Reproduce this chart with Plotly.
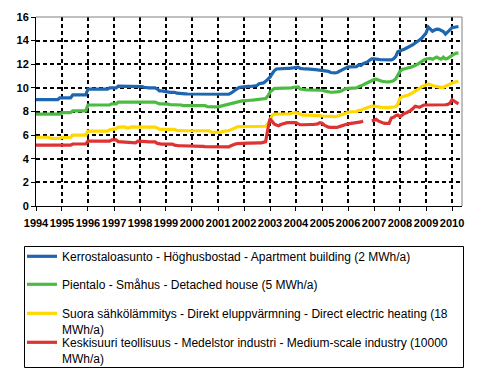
import pandas as pd
import plotly.graph_objects as go

# Monthly data, Jan 1994 - Apr 2010 (c/kWh)
months = pd.date_range("1994-01-01", periods=196, freq="MS")

apartment = (
    [9.0]*11 + [9.15]
    + [9.15, 9.15, 9.15, 9.15, 9.15, 9.4, 9.4, 9.4, 9.4, 9.4, 9.4, 9.4]
    + [9.9]*10 + [10.0, 10.0]
    + [10.0, 10.0, 10.15, 10.15, 10.15, 10.15, 10.15, 10.1, 10.1, 10.1, 10.1, 10.1]
    + [10.1, 10.1, 10.05, 10.0, 10.0, 10.0, 10.0, 10.0, 9.9, 9.75, 9.75, 9.7]
    + [9.65, 9.65, 9.62, 9.62, 9.62, 9.55, 9.55, 9.55, 9.5, 9.5, 9.48, 9.48]
    + [9.46, 9.46, 9.46, 9.46, 9.46, 9.46, 9.46, 9.42, 9.46, 9.46, 9.46, 9.46]
    + [9.46, 9.46, 9.46, 9.46, 9.46, 9.46, 9.55, 9.7, 9.85, 9.95, 10.05, 10.08]
    + [10.12, 10.12, 10.12, 10.12, 10.15, 10.15, 10.2, 10.35, 10.4, 10.42, 10.55, 10.7]
    + [10.9, 11.2, 11.45, 11.6, 11.62, 11.65, 11.65, 11.65, 11.65, 11.65, 11.68, 11.75]
    + [11.78, 11.76, 11.65, 11.6, 11.6, 11.6, 11.6, 11.6, 11.58, 11.55, 11.52, 11.5]
    + [11.5, 11.48, 11.45, 11.4, 11.3, 11.27, 11.27, 11.3, 11.4, 11.5, 11.6, 11.72]
    + [11.78, 11.78, 11.78, 11.78, 11.8, 11.95, 11.9, 12.05, 12.1, 12.2, 12.35, 12.45]
    + [12.45, 12.45, 12.42, 12.38, 12.37, 12.37, 12.37, 12.37, 12.37, 12.45, 12.65, 13.05]
    + [13.1, 13.2, 13.27, 13.35, 13.45, 13.55, 13.65, 13.8, 13.9, 14.05, 14.2, 14.4]
    + [14.65, 15.15, 15.0, 14.8, 14.9, 14.97, 14.95, 14.85, 14.77, 14.55, 14.7, 14.9]
    + [15.1, 15.14, 15.14, 15.2]
)

detached = (
    [7.78]*12
    + [7.9, 7.9, 7.9, 7.9, 7.9, 8.05, 8.05, 8.05, 8.05, 8.05, 8.05, 8.05]
    + [8.55]*11 + [8.65]
    + [8.65, 8.65] + [8.8]*10
    + [8.8]*8 + [8.72, 8.65, 8.65, 8.65]
    + [8.65, 8.62, 8.58, 8.58, 8.58, 8.58, 8.58, 8.55, 8.5, 8.5, 8.5, 8.5]
    + [8.5]*7 + [8.42, 8.4, 8.4, 8.4, 8.4]
    + [8.4, 8.45, 8.48, 8.5, 8.55, 8.62, 8.68, 8.75, 8.8, 8.85, 8.88, 8.9]
    + [8.9, 8.9, 8.92, 8.95, 8.97, 9.0, 9.03, 9.03, 9.05, 9.05, 9.1, 9.3]
    + [9.65, 9.8, 9.95, 9.96, 9.96, 9.96, 9.96, 9.96, 9.96, 9.98, 10.0, 10.05]
    + [10.1, 10.08, 9.9, 9.85, 9.82, 9.82, 9.82, 9.82, 9.82, 9.82, 9.8, 9.8]
    + [9.8, 9.75, 9.7, 9.65, 9.63, 9.63, 9.63, 9.63, 9.68, 9.75, 9.85, 9.95]
    + [9.96, 9.96, 9.96, 9.96, 10.0, 10.1, 10.15, 10.25, 10.35, 10.45, 10.55, 10.65]
    + [10.7, 10.73, 10.7, 10.6, 10.55, 10.5, 10.5, 10.5, 10.52, 10.6, 10.75, 11.05]
    + [11.4, 11.55, 11.62, 11.66, 11.7, 11.75, 11.8, 11.9, 12.0, 12.14, 12.25, 12.35]
    + [12.45, 12.5, 12.5, 12.43, 12.5, 12.6, 12.5, 12.43, 12.6, 12.45, 12.5, 12.65]
    + [12.75, 12.85, 12.94, 12.94]
)

electric = (
    [5.82]*7 + [5.72]*5
    + [5.8]*5 + [6.0]*7
    + [6.34]*10 + [6.45, 6.5]
    + [6.5, 6.55, 6.68, 6.7, 6.7, 6.7, 6.62, 6.62, 6.7, 6.7, 6.7, 6.7]
    + [6.68]*8 + [6.6, 6.5, 6.48, 6.48]
    + [6.48]*5 + [6.4, 6.37, 6.37, 6.37, 6.37, 6.37, 6.37]
    + [6.37]*9 + [6.25, 6.23, 6.23]
    + [6.23, 6.23, 6.3, 6.37, 6.37, 6.37, 6.45, 6.57, 6.65, 6.7, 6.72, 6.72]
    + [6.75]*11 + [6.95]
    + [7.3, 7.65, 7.78, 7.78, 7.78, 7.78, 7.78, 7.78, 7.78, 7.8, 7.85, 7.9]
    + [7.9, 7.85, 7.75, 7.7, 7.7, 7.7, 7.7, 7.7, 7.7, 7.68, 7.65, 7.65]
    + [7.62, 7.6, 7.58, 7.56, 7.56, 7.56, 7.56, 7.6, 7.65, 7.7, 7.78, 7.84]
    + [7.95, 7.98, 7.98, 7.98, 8.0, 8.1, 8.1, 8.2, 8.28, 8.35, 8.42, 8.46]
    + [8.46, 8.46, 8.4, 8.35, 8.33, 8.33, 8.33, 8.35, 8.35, 8.35, 8.4, 8.6]
    + [9.14, 9.25, 9.28, 9.33, 9.4, 9.5, 9.6, 9.7, 9.85, 9.95, 10.1, 10.2]
    + [10.25, 10.33, 10.3, 10.2, 10.15, 10.1, 10.05, 10.05, 10.05, 10.15, 10.27, 10.3]
    + [10.4, 10.47, 10.52, 10.56]
)

industry = (
    [5.15]*12
    + [5.15]*5 + [5.25]*7
    + [5.5]*11 + [5.6]
    + [5.62, 5.6, 5.45, 5.43, 5.43, 5.43, 5.43, 5.35, 5.35, 5.35, 5.35, 5.5]
    + [5.5, 5.5, 5.5, 5.45, 5.43, 5.43, 5.43, 5.43, 5.3, 5.24, 5.24, 5.24]
    + [5.24]*4 + [5.15, 5.1, 5.1, 5.1, 5.1, 5.1, 5.1, 5.08]
    + [5.05]*6 + [5.02]*6
    + [4.98, 4.96, 4.96, 4.96, 4.96, 5.0, 5.1, 5.2, 5.25, 5.28, 5.3, 5.3]
    + [5.33, 5.33, 5.33, 5.33, 5.35, 5.35, 5.35, 5.35, 5.35, 5.38, 5.45, 6.5]
    + [7.38, 7.15, 6.95, 6.85, 6.8, 6.9, 6.95, 7.05, 7.05, 7.05, 7.05, 7.05]
    + [7.05, 6.95, 6.88, 6.88, 6.9, 6.9, 6.88, 6.9, 6.9, 6.92, 6.95, 7.05]
    + [7.0, 6.85, 6.75, 6.68, 6.65, 6.65, 6.65, 6.65, 6.72, 6.8, 6.85, 6.9]
    + [6.95, 6.98, 6.99, 6.99, 7.0, 7.07, 7.12, 7.19, None, None, None, 7.2]
    + [7.25, 7.33, 7.2, 7.1, 7.05, 7.0, 7.0, 7.0, 7.45, 7.5, 7.65, 7.7]
    + [7.55, 7.7, 7.84, 7.9, 7.98, 8.1, 8.25, 8.45, 8.4, 8.35, 8.45, 8.55]
    + [8.55, 8.55, 8.52, 8.52, 8.52, 8.52, 8.52, 8.55, 8.57, 8.57, 8.6, 8.7]
    + [9.0, 8.85, 8.75, 8.65]
)

series_names = [
    "Kerrostaloasunto - Höghusbostad - Apartment building (2 MWh/a)",
    "Pientalo - Småhus - Detached house (5 MWh/a)",
    "Suora sähkölämmitys - Direkt eluppvärmning - Direct electric heating (18<br>MWh/a)",
    "Keskisuuri teollisuus - Medelstor industri - Medium-scale industry (10000<br>MWh/a)",
]
series_values = [apartment, detached, electric, industry]
series_colors = ["#1f66b0", "#4cbb42", "#ffd800", "#df3232"]

year_ticks = pd.date_range("1994-01-01", "2010-01-01", freq="YS")
year_labels = [str(d.year) for d in year_ticks]

# The page body offsets the figure by 8 px, so the figure is 8 px smaller
# and all page pixel positions are shifted by -8.
OFF = 8
W, H = 495 - OFF, 390 - OFF
L, R, T, B = 36 - OFF, 462 - OFF, 17 - OFF, 206 - OFF
PW, PH = R - L, B - T

def px_x(x):
    return (x - OFF - L) / PW

def px_y(y):
    return (B - (y - OFF)) / PH

fig = go.Figure()
legend_tops = [242, 270, 299, 328]
legend_keys = ["legend", "legend2", "legend3", "legend4"]
for name, vals, col, lk in zip(series_names, series_values, series_colors, legend_keys):
    fig.add_trace(go.Scatter(
        x=months, y=vals, name=name, mode="lines",
        line=dict(color=col, width=3.2), connectgaps=False,
        legend=lk,
    ))

FONT = "Liberation Sans, Arial, sans-serif"
legend_common = dict(
    font=dict(family=FONT, size=12, color="#000000"),
    bgcolor="rgba(0,0,0,0)", borderwidth=0, valign="top",
    xanchor="left", yanchor="top", itemwidth=30,
)
layout_legends = {}
for lk, top in zip(legend_keys, legend_tops):
    layout_legends[lk] = dict(x=px_x(22), y=px_y(top), **legend_common)

axis_common = dict(
    showline=True, linecolor="#000000", linewidth=1,
    ticks="outside", ticklen=4, tickcolor="#000000", tickangle=0,
    tickfont=dict(family=FONT, size=11, color="#000000", weight="bold"),
    zeroline=False,
    showgrid=True, gridcolor="#000000", gridwidth=2, griddash="4px,3px",
)

fig.update_layout(
    template="none",
    width=W, height=H,
    margin=dict(l=L, r=W - R, t=T, b=H - B, pad=0, autoexpand=False),
    paper_bgcolor="white", plot_bgcolor="white",
    showlegend=True,
    xaxis=dict(
        type="date",
        range=["1994-01-01", "2010-05-21"],
        tickvals=list(year_ticks), ticktext=year_labels,
        ticklabelstandoff=3,
        **axis_common,
    ),
    yaxis=dict(
        range=[0, 16], dtick=2, tick0=0,
        **axis_common,
    ),
    shapes=[
        dict(type="line", xref="paper", yref="paper", x0=0, x1=1, y0=1, y1=1,
             line=dict(color="#808080", width=1), layer="above"),
        dict(type="line", xref="paper", yref="paper", x0=1, x1=1, y0=0, y1=1,
             line=dict(color="#808080", width=1), layer="above"),
        dict(type="rect", xref="paper", yref="paper",
             x0=px_x(24.5), x1=px_x(463.5), y0=px_y(367.5), y1=px_y(246.5),
             line=dict(color="#000000", width=1), fillcolor="rgba(0,0,0,0)", layer="above"),
    ],
    **layout_legends,
)

fig.write_html("out.html")
